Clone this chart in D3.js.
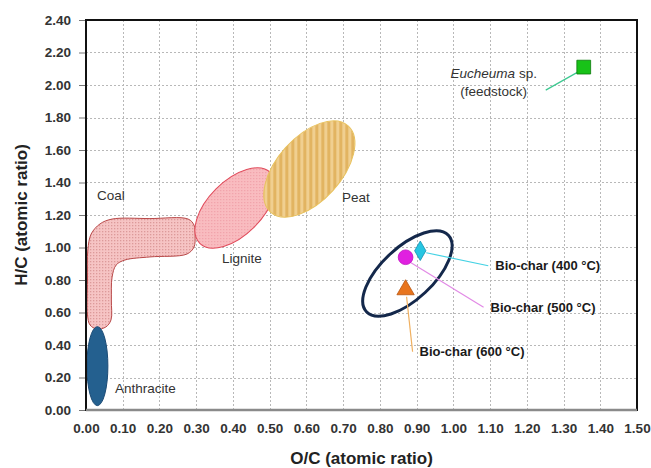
<!DOCTYPE html>
<html>
<head>
<meta charset="utf-8">
<script src="https://cdn.jsdelivr.net/npm/d3@7"></script>
<style>
  html, body { margin: 0; padding: 0; background: #fff; }
  svg { display: block; font-family: "Liberation Sans", Arial, sans-serif; }
</style>
</head>
<body>
<svg id="chart" width="651" height="468"></svg>
<script>
// Axis ticks
const xTicks = [0.00, 0.10, 0.20, 0.30, 0.40, 0.50, 0.60, 0.70, 0.80, 0.90, 1.00, 1.10, 1.20, 1.30, 1.40, 1.50];
const yTicks = [0.00, 0.20, 0.40, 0.60, 0.80, 1.00, 1.20, 1.40, 1.60, 1.80, 2.00, 2.20, 2.40];

// Measured samples (O/C, H/C)
const sampleNames = ["Eucheuma sp. (feedstock)", "Bio-char (400 °C)", "Bio-char (500 °C)", "Bio-char (600 °C)"];
const sampleOC = [1.355, 0.91, 0.87, 0.87];
const sampleHC = [2.11, 0.98, 0.94, 0.74];

// Fuel regions drawn as ellipses: centre (O/C, H/C)
const regionNames = ["Anthracite", "Lignite", "Peat"];
const regionOC = [0.031, 0.406, 0.608];
const regionHC = [0.27, 1.243, 1.483];

// Coal band outline (O/C, H/C)
const coalOC = [0.038, 0.071, 0.174, 0.278, 0.294, 0.297, 0.294, 0.275, 0.174, 0.106, 0.082, 0.071, 0.069, 0.068, 0.054, 0.030, 0.011, 0.004, 0.004, 0.005, 0.014];
const coalHC = [1.145, 1.175, 1.178, 1.175, 1.138, 1.071, 1.003, 0.960, 0.942, 0.923, 0.892, 0.818, 0.677, 0.554, 0.511, 0.498, 0.523, 0.585, 0.800, 0.985, 1.083];

// Bio-char cluster centre
const clusterOC = [0.875];
const clusterHC = [0.84];

const svg = d3.select("#chart");
const plot = { left: 86, right: 637, top: 20, bottom: 410 };

const x = d3.scaleLinear().domain([0, 1.5]).range([plot.left, plot.right]);
const y = d3.scaleLinear().domain([0, 2.4]).range([plot.bottom, plot.top]);

// ellipse geometry (semi-axes in px, rotation in degrees) and style per region
const regionStyle = [
  { rx: 10.5, ry: 39.5, rot: 0, fill: "#24608f", stroke: "#1a4a75" },
  { rx: 50, ry: 27, rot: -45, fill: "url(#ligDots)", stroke: "#e04a5a" },
  { rx: 58, ry: 32, rot: -48, fill: "url(#peatStripes)", stroke: "#e8c25e" }
];

// ---- patterns ----
const defs = svg.append("defs");
const coalPat = defs.append("pattern").attr("id", "coalDots")
  .attr("patternUnits", "userSpaceOnUse").attr("width", 3).attr("height", 3);
coalPat.append("rect").attr("width", 3).attr("height", 3).attr("fill", "#f6c4c4");
coalPat.append("rect").attr("width", 1.3).attr("height", 1.3).attr("fill", "#dc9a9a");

// patterns inside rotated ellipses are counter-rotated so they stay upright
const ligPat = defs.append("pattern").attr("id", "ligDots")
  .attr("patternUnits", "userSpaceOnUse").attr("width", 3).attr("height", 3)
  .attr("patternTransform", `rotate(${-regionStyle[1].rot})`);
ligPat.append("rect").attr("width", 3).attr("height", 3).attr("fill", "#f9bcc0");
ligPat.append("rect").attr("width", 1.2).attr("height", 1.2).attr("fill", "#f0a0a8");

const peatPat = defs.append("pattern").attr("id", "peatStripes")
  .attr("patternUnits", "userSpaceOnUse").attr("width", 6).attr("height", 6)
  .attr("patternTransform", `rotate(${-regionStyle[2].rot})`);
peatPat.append("rect").attr("width", 6).attr("height", 6).attr("fill", "#f0cf90");
peatPat.append("rect").attr("width", 3).attr("height", 6).attr("fill", "#e2b461");

// ---- grid ----
const grid = svg.append("g").attr("stroke", "#b8b8b8").attr("stroke-width", 1)
  .attr("stroke-dasharray", "2,2");
grid.selectAll("line.vx").data(xTicks.slice(1, -1)).join("line")
  .attr("x1", d => Math.round(x(d)) + 0.5).attr("x2", d => Math.round(x(d)) + 0.5)
  .attr("y1", plot.top).attr("y2", plot.bottom);
grid.selectAll("line.hy").data(yTicks.slice(1, -1)).join("line")
  .attr("y1", d => Math.round(y(d)) + 0.5).attr("y2", d => Math.round(y(d)) + 0.5)
  .attr("x1", plot.left).attr("x2", plot.right);

// ---- regions ----
const coalPts = coalOC.map((d, i) => [x(d), y(coalHC[i])]);
svg.append("path")
  .attr("d", d3.line().curve(d3.curveCatmullRomClosed.alpha(0.5))(coalPts))
  .attr("fill", "url(#coalDots)").attr("stroke", "#b84848").attr("stroke-width", 1);

svg.append("g").selectAll("ellipse").data(regionNames).join("ellipse")
  .attr("transform", (d, i) => `translate(${x(regionOC[i])},${y(regionHC[i])}) rotate(${regionStyle[i].rot})`)
  .attr("rx", (d, i) => regionStyle[i].rx).attr("ry", (d, i) => regionStyle[i].ry)
  .attr("fill", (d, i) => regionStyle[i].fill)
  .attr("stroke", (d, i) => regionStyle[i].stroke).attr("stroke-width", 1);

// region labels
const regionLabelPos = { Coal: [97, 200], Lignite: [222, 263], Peat: [342, 202], Anthracite: [115, 393] };
svg.append("g").selectAll("text").data(["Coal", ...regionNames]).join("text")
  .attr("x", d => regionLabelPos[d][0]).attr("y", d => regionLabelPos[d][1])
  .attr("font-size", 13.5).attr("fill", "#333").text(d => d);

// bio-char cluster outline
svg.append("ellipse")
  .attr("transform", `translate(${x(clusterOC[0])},${y(clusterHC[0])}) rotate(-43)`)
  .attr("rx", 56).attr("ry", 26)
  .attr("fill", "none").attr("stroke", "#14284b").attr("stroke-width", 3);

// ---- leader lines and sample labels ----
const markerStyle = [
  { type: d3.symbolSquare, size: 190, fill: "#18c218", stroke: "#0b7a0b", line: "#3cc890",
    from: [-6, 5], to: [-38, 23] },
  { type: d3.symbolDiamond, size: 110, fill: "#26c6e2", stroke: "#128fb0", line: "#44d2e4",
    from: [6, 2], to: [68, 15] },
  { type: d3.symbolCircle, size: 170, fill: "#e020e0", stroke: "#c010c0", line: "#e28ae6",
    from: [3, 4], to: [78, 50] },
  { type: d3.symbolTriangle, size: 130, fill: "#e8741c", stroke: "#b85410", line: "#f0b060",
    from: [1, 7], to: [7, 62] }
];

const leaders = svg.append("g");
leaders.selectAll("line").data(sampleNames).join("line")
  .attr("x1", (d, i) => x(sampleOC[i]) + markerStyle[i].from[0])
  .attr("y1", (d, i) => y(sampleHC[i]) + markerStyle[i].from[1])
  .attr("x2", (d, i) => x(sampleOC[i]) + markerStyle[i].to[0])
  .attr("y2", (d, i) => y(sampleHC[i]) + markerStyle[i].to[1])
  .attr("stroke", (d, i) => markerStyle[i].line).attr("stroke-width", 1.2);

svg.append("g").selectAll("path").data(sampleNames).join("path")
  .attr("transform", (d, i) => `translate(${x(sampleOC[i])},${y(sampleHC[i])})`)
  .attr("d", (d, i) => d3.symbol().type(markerStyle[i].type).size(markerStyle[i].size)())
  .attr("fill", (d, i) => markerStyle[i].fill)
  .attr("stroke", (d, i) => markerStyle[i].stroke).attr("stroke-width", 0.8);

// bio-char labels (bold), anchored after each leader line
const labels = svg.append("g").attr("font-size", 13).attr("font-weight", "bold").attr("fill", "#1a1a1a");
labels.selectAll("text").data(sampleNames.slice(1)).join("text")
  .attr("x", (d, i) => x(sampleOC[i + 1]) + markerStyle[i + 1].to[0] + 7)
  .attr("y", (d, i) => y(sampleHC[i + 1]) + markerStyle[i + 1].to[1] + 4.5)
  .text(d => d);

// feedstock label, two lines centred left of the leader
const fx = x(sampleOC[0]) - 90, fy = y(sampleHC[0]);
const feed = svg.append("text").attr("font-size", 13.5).attr("fill", "#333").attr("text-anchor", "middle");
const l1 = feed.append("tspan").attr("x", fx).attr("y", fy + 11);
l1.append("tspan").attr("font-style", "italic").text("Eucheuma");
l1.append("tspan").text(" sp.");
feed.append("tspan").attr("x", fx).attr("y", fy + 29).text("(feedstock)");

// ---- frame ----
svg.append("rect")
  .attr("x", plot.left).attr("y", plot.top)
  .attr("width", plot.right - plot.left).attr("height", plot.bottom - plot.top)
  .attr("fill", "none").attr("stroke", "#111").attr("stroke-width", 2);
svg.append("line")
  .attr("x1", plot.left).attr("x2", plot.right)
  .attr("y1", plot.bottom).attr("y2", plot.bottom)
  .attr("stroke", "#8a8a8a").attr("stroke-width", 2.5);

// ---- axes ----
const fmt = d3.format(".2f");
const yAxis = svg.append("g").attr("transform", `translate(${plot.left - 1},0)`)
  .call(d3.axisLeft(y).tickValues(yTicks).tickFormat(fmt).tickSize(6).tickPadding(8));
yAxis.select(".domain").remove();
yAxis.selectAll(".tick line").attr("stroke", "#777");

const xAxis = svg.append("g").attr("transform", `translate(0,${plot.bottom + 1})`)
  .call(d3.axisBottom(x).tickValues(xTicks).tickFormat(fmt).tickSize(0).tickPadding(12));
xAxis.select(".domain").remove();

svg.selectAll(".tick text")
  .attr("font-family", "'Liberation Sans', Arial, sans-serif")
  .attr("font-size", 13.5).attr("font-weight", "bold").attr("fill", "#333");

// axis titles
svg.append("text")
  .attr("x", (plot.left + plot.right) / 2).attr("y", 464)
  .attr("text-anchor", "middle").attr("font-size", 17).attr("font-weight", "bold").attr("fill", "#222")
  .text("O/C (atomic ratio)");
svg.append("text")
  .attr("transform", `translate(27,${(plot.top + plot.bottom) / 2}) rotate(-90)`)
  .attr("text-anchor", "middle").attr("font-size", 17).attr("font-weight", "bold").attr("fill", "#222")
  .text("H/C (atomic ratio)");
</script>
</body>
</html>
